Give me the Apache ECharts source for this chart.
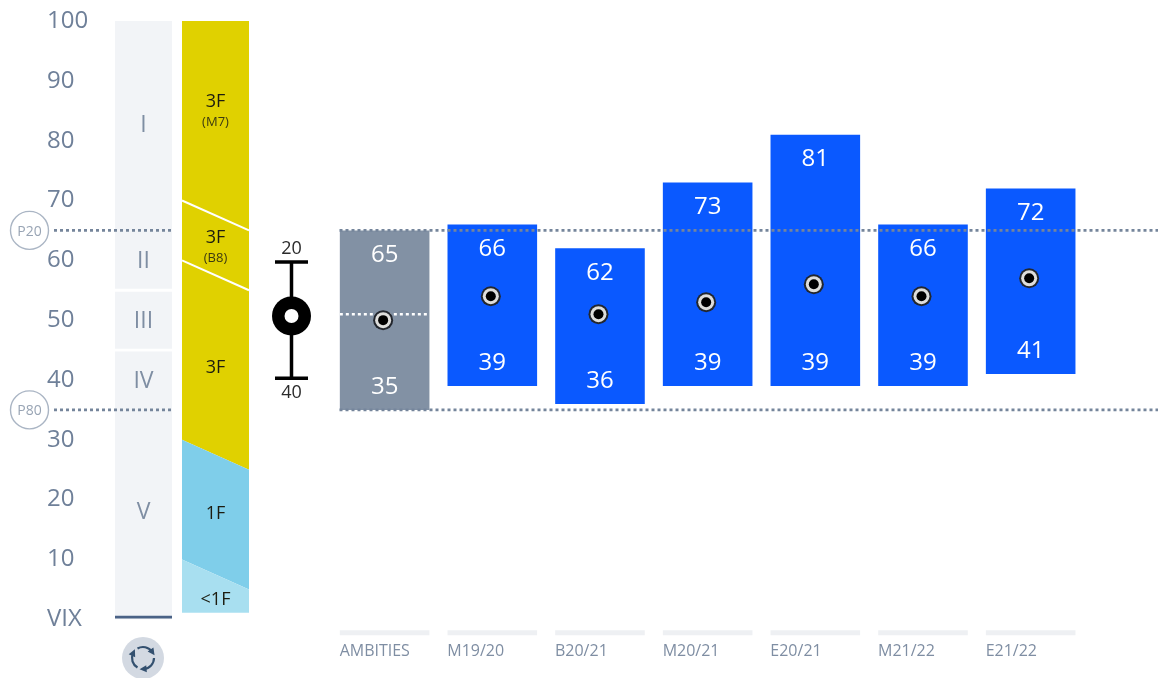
<!DOCTYPE html>
<html><head><meta charset="utf-8">
<style>html,body{margin:0;padding:0;background:#fff}#c{width:1158px;height:678px}</style>
<script src="https://cdn.jsdelivr.net/npm/echarts@6/dist/echarts.min.js"></script>
</head><body><div id="c"></div>
<script>
// ---- data ----
const categories = ['AMBITIES','M19/20','B20/21','M20/21','E20/21','M21/22','E21/22'];
const highValues = [65,66,62,73,81,66,72];
const lowValues  = [35,39,36,39,39,39,41];
const markerValues = [50,54,51,53,56,54,57];
const ambitionMidline = 51;
const percentileLabels = ['P20','P80'];
const percentileValues = [65,35];
const bandLabels = ['I','II','III','IV','V'];
const bandHigh = [100,65,55,45,35];
const bandLow  = [65,55,45,35,0];
const bandLabelAt = [82.8,60,50,40,18.1];
const zoneNames = ['3F','3F','3F','1F','<1F'];
const zoneNotes = ['(M7)','(B8)','','',''];
const zoneHighLeft  = [100,70,60,30,10];
const zoneHighRight = [100,65,55,25,5];
const zoneLowLeft   = [70,60,30,10,1.1];
const zoneLowRight  = [65,55,25,5,1.1];
const zoneLabelAt = [86.6,63.9,42.3,17.8,3.4];
const zoneNoteAt  = [83.3,60.6,0,0,0];
const keyHigh = 59.7, keyMid = 50.7, keyLow = 40.3;
const keyLabels = ['20','40'];
// ---- style ----
const FONT = '"Open Sans", sans-serif';
const zoneColors = ['#E0D100','#E0D100','#E0D100','#7FCEEA','#A8DFF0'];
const BLUE = '#0A59FF', GREY = '#8291A4', SLATE = '#6F8099', DOT = '#75859B', STRIP = '#F2F4F7';

const chart = echarts.init(document.getElementById('c'), null, {renderer:'canvas'});
const G = {top:21, height:598.3};
const hiddenX = (gridIndex,min,max)=>({type:'value',gridIndex,min,max,show:false});
const hiddenY = (gridIndex)=>({type:'value',gridIndex,min:0,max:100,show:false});

function txt(x,y,text,size,fill,extra){
  return {type:'text',style:Object.assign({x,y:y+1.2,text,fontSize:size,fontFamily:FONT,fill,align:'center',verticalAlign:'middle'},extra||{})};
}

const option = {
  backgroundColor:'#fff',
  animation:false,
  grid:[
    {left:115,width:57,top:G.top,height:G.height},
    {left:182,width:67,top:G.top,height:G.height},
    {left:330.8,width:753.7,top:G.top,height:G.height},
    {left:0,width:1158,top:G.top,height:G.height}
  ],
  xAxis:[
    hiddenX(0,0,1),
    hiddenX(1,0,1),
    {type:'category',gridIndex:2,data:categories,axisLine:{show:false},axisTick:{show:false},
      axisLabel:{margin:24,interval:0,color:'#7F8EA3',fontFamily:FONT,fontSize:16,
        formatter:v=>'{a|'+v+'}',rich:{a:{width:90,align:'left',color:'#7F8EA3',fontFamily:FONT,fontSize:16}}}},
    hiddenX(3,0,1158)
  ],
  yAxis:[
    {type:'value',gridIndex:0,min:0,max:100,interval:10,axisLine:{show:false},axisTick:{show:false},splitLine:{show:false},
      axisLabel:{align:'left',margin:68,padding:[5,0,0,0],color:SLATE,fontFamily:FONT,fontSize:24,formatter:v=>v===0?'VIX':String(v)}},
    hiddenY(1),
    {type:'value',gridIndex:2,min:0,max:100,show:false,splitLine:{show:false}},
    hiddenY(3)
  ],
  series:[
    { // activity-level strip
      type:'custom',name:'bands',xAxisIndex:0,yAxisIndex:0,z:2,
      data:bandHigh.map((h,i)=>[h,bandLow[i],bandLabelAt[i]]),
      renderItem(p,api){
        const i=p.dataIndex;
        const a=api.coord([0,api.value(0)]), b=api.coord([1,api.value(1)]);
        const gapT=(i===2||i===3)?1.4:0, gapB=(i===1||i===2)?1.4:0;
        const kids=[{type:'rect',shape:{x:a[0],y:a[1]+gapT,width:b[0]-a[0],height:b[1]-a[1]-gapT-gapB},style:{fill:STRIP}}];
        const c=api.coord([0.5,api.value(2)]);
        kids.push(txt(c[0],c[1],bandLabels[i],23,'#7F8EA3'));
        if(i===4) kids.push({type:'rect',shape:{x:a[0],y:b[1]-3.5,width:b[0]-a[0],height:2.6},style:{fill:'#4A6286'}});
        return {type:'group',children:kids};
      }
    },
    { // slanted level zones
      type:'custom',name:'zones',xAxisIndex:1,yAxisIndex:1,z:3,
      data:zoneHighLeft.map((v,i)=>[v,zoneHighRight[i],zoneLowRight[i],zoneLowLeft[i],zoneLabelAt[i],zoneNoteAt[i]]),
      renderItem(p,api){
        const i=p.dataIndex;
        const tl=api.coord([0,api.value(0)]),tr=api.coord([1,api.value(1)]),br=api.coord([1,api.value(2)]),bl=api.coord([0,api.value(3)]);
        const kids=[{type:'polygon',shape:{points:[tl,tr,br,bl]},style:{fill:zoneColors[i]}}];
        if(i<2) kids.push({type:'line',z2:5,shape:{x1:bl[0],y1:bl[1],x2:br[0],y2:br[1]},style:{stroke:'#fff',lineWidth:2}});
        const c=api.coord([0.5,api.value(4)]);
        kids.push(txt(c[0],c[1],zoneNames[i],18,'#1c1c10',{z2:6}));
        if(zoneNotes[i]){const n=api.coord([0.5,api.value(5)]);kids.push(txt(n[0],n[1],zoneNotes[i],13,'#3b3a10'));}
        return {type:'group',children:kids};
      }
    },
    { // range bars
      type:'custom',name:'ranges',xAxisIndex:2,yAxisIndex:2,z:4,
      data:categories.map((c,i)=>[i,highValues[i],lowValues[i]]),
      renderItem(p,api){
        const i=p.dataIndex, w=89.6;
        const top=api.coord([i,api.value(1)]), bot=api.coord([i,api.value(2)]);
        const x=top[0]-w/2;
        const base=api.coord([i,0])[1];
        const kids=[
          {type:'rect',shape:{x,y:top[1],width:w,height:bot[1]-top[1]},style:{fill:i===0?GREY:BLUE}},
          txt(top[0],top[1]+23.5,String(api.value(1)),24,'#fff'),
          txt(top[0],bot[1]-24,String(api.value(2)),24,'#fff'),
          {type:'rect',shape:{x,y:base+11,width:w,height:5},style:{fill:'#EEF0F3'}}
        ];
        if(i===0){
          const m=api.coord([i,ambitionMidline])[1];
          kids.push({type:'line',shape:{x1:x,y1:m,x2:x+w,y2:m},style:{stroke:'#fff',lineWidth:2.5,lineDash:[3,3]}});
        }
        return {type:'group',children:kids};
      }
    },
    { // percentile lines, on top of the bars
      type:'custom',name:'percentiles',xAxisIndex:3,yAxisIndex:3,z:5,
      data:percentileValues.map(v=>[0,v]),
      renderItem(p,api){
        const y=api.coord([0,api.value(1)])[1];
        const dash={stroke:DOT,lineWidth:2.6,lineDash:[3,3]};
        return {type:'group',children:[
          {type:'line',shape:{x1:54,y1:y,x2:171,y2:y},style:dash},
          {type:'line',shape:{x1:339.5,y1:y,x2:1158,y2:y},style:dash},
          {type:'circle',shape:{cx:29.5,cy:y,r:19},style:{fill:'#fff',stroke:'#AAB5C4',lineWidth:1.4}},
          txt(29.5,y,percentileLabels[p.dataIndex],14,'#98A4B4')
        ]};
      }
    },
    { // result markers
      type:'custom',name:'markers',xAxisIndex:2,yAxisIndex:2,z:6,
      data:categories.map((c,i)=>[i,markerValues[i]]),
      renderItem(p,api){
        const c=api.coord([api.value(0),api.value(1)]), x=c[0]-1.5, y=c[1];
        return {type:'group',children:[
          {type:'circle',shape:{cx:x,cy:y,r:10},style:{fill:'#23272e'}},
          {type:'circle',shape:{cx:x,cy:y,r:8},style:{fill:'#DEDEDC'}},
          {type:'circle',shape:{cx:x,cy:y,r:5},style:{fill:'#000'}}
        ]};
      }
    },
    { // spread key glyph
      type:'custom',name:'key',xAxisIndex:3,yAxisIndex:3,z:6,
      data:[[291.5,keyHigh,keyMid,keyLow]],
      renderItem(p,api){
        const x=api.value(0);
        const h=api.coord([x,api.value(1)]),m=api.coord([x,api.value(2)]),l=api.coord([x,api.value(3)]);
        const s={stroke:'#000',lineWidth:3.5};
        return {type:'group',children:[
          {type:'line',shape:{x1:h[0],y1:h[1],x2:h[0],y2:l[1]},style:s},
          {type:'line',shape:{x1:h[0]-16.5,y1:h[1],x2:h[0]+16.5,y2:h[1]},style:s},
          {type:'line',shape:{x1:h[0]-16.5,y1:l[1],x2:h[0]+16.5,y2:l[1]},style:s},
          {type:'circle',shape:{cx:h[0],cy:m[1],r:19.5},style:{fill:'#000'}},
          {type:'circle',shape:{cx:h[0],cy:m[1],r:7},style:{fill:'#fff'}},
          txt(h[0],h[1]-14,keyLabels[0],18,'#2b2b2b'),
          txt(h[0],l[1]+13,keyLabels[1],18,'#2b2b2b')
        ]};
      }
    }
  ],
  graphic:(function(){
    const cx=143,cy=658,r=11,col='#33506F';
    const kids=[{type:'circle',shape:{cx,cy,r:21},style:{fill:'#D3D9E2'}}];
    [-120,0,120].forEach(a0=>{
      const s=a0*Math.PI/180,e=(a0+85)*Math.PI/180;
      kids.push({type:'arc',shape:{cx,cy,r,startAngle:s,endAngle:e},style:{stroke:col,lineWidth:2.2,fill:null}});
      const ax=cx+r*Math.cos(e),ay=cy+r*Math.sin(e),t=e+Math.PI/2,d=4.4;
      kids.push({type:'polygon',shape:{points:[
        [ax+d*Math.cos(t),ay+d*Math.sin(t)],
        [ax+d*Math.cos(t+2.2),ay+d*Math.sin(t+2.2)],
        [ax+d*Math.cos(t-2.2),ay+d*Math.sin(t-2.2)]]},style:{fill:col}});
    });
    return {elements:kids.map(k=>Object.assign(k,{z:10}))};
  })()
};
chart.setOption(option);
</script></body></html>
